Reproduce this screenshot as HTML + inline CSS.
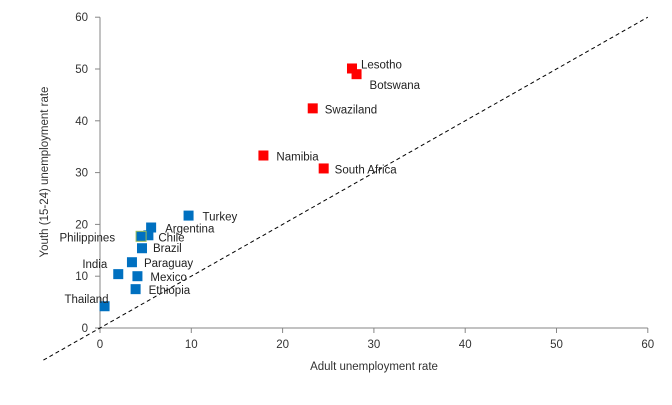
<!DOCTYPE html>
<html><head><meta charset="utf-8"><style>
body{margin:0;background:#fff}
svg{display:block;font-family:"Liberation Sans",sans-serif}
</style></head><body>
<svg id="chart" width="672" height="405" viewBox="0 0 672 405"></svg>
<script>
const names=["Lesotho","Botswana","Swaziland","Namibia","South Africa","Turkey","Argentina","Chile","Philippines","Brazil","Paraguay","India","Mexico","Ethiopia","Thailand"];
const adultRate=[27.6,28.1,23.3,17.9,24.5,9.7,5.6,5.3,4.5,4.6,3.5,2.0,4.1,3.9,0.5];
const youthRate=[50.1,49.0,42.4,33.3,30.8,21.7,19.4,17.9,17.7,15.4,12.7,10.4,10.0,7.5,4.2];
const group=["africa","africa","africa","africa","africa","other","other","other","other","other","other","other","other","other","other"];
const xTicks=[0,10,20,30,40,50,60];
const yTicks=[0,10,20,30,40,50,60];
const ns="http://www.w3.org/2000/svg";
const svg=document.getElementById("chart");
const X=v=>100+v*9.13, Y=v=>328-v*5.18;
function mk(t,a){const e=document.createElementNS(ns,t);for(const k in a)e.setAttribute(k,a[k]);svg.appendChild(e);return e;}
let e;
e=mk("line",{x1:X(0),y1:Y(0),x2:X(60),y2:Y(0),stroke:"#868686"});


e=mk("line",{x1:X(0),y1:Y(0),x2:X(0),y2:Y(60),stroke:"#868686"});


xTicks.forEach(t=>{
 mk("line",{x1:X(t),y1:Y(0),x2:X(t),y2:Y(0)+5,stroke:"#868686"});
 e=mk("text",{x:X(t),y:Y(0)+20,"text-anchor":"middle","font-size":"11.5",fill:"#333"});e.textContent=t;
 
 
});
yTicks.forEach(t=>{
 mk("line",{x1:X(0)-5,y1:Y(t),x2:X(0),y2:Y(t),stroke:"#868686"});
 e=mk("text",{x:X(0)-12,y:Y(t)+4,"text-anchor":"end","font-size":"11.5",fill:"#333"});e.textContent=t;
 
 
});
e=mk("line",{x1:X(-6.2),y1:Y(-6.2),x2:X(60),y2:Y(60),stroke:"#000","stroke-dasharray":"4,3"});


e=mk("text",{x:374,y:370,"text-anchor":"middle","font-size":"11.5",fill:"#333"});e.textContent="Adult unemployment rate";


e=mk("text",{x:0,y:0,"text-anchor":"middle","font-size":"11.5",fill:"#333",transform:"translate(48,172) rotate(-90)"});e.textContent="Youth (15-24) unemployment rate";


const off={"Botswana":[13,15,"start"],"Philippines":[-26,5,"end"],"India":[-11,-6,"end"],"Thailand":[4,-3,"end"],"Chile":[10,6,"start"],"Argentina":[14,5,"start"],"Brazil":[11,4,"start"],"Turkey":[14,5,"start"],"Mexico":[13,5,"start"],"Ethiopia":[13,5,"start"],"Paraguay":[12,5,"start"],"South Africa":[11,5,"start"],"Namibia":[13,5,"start"],"Swaziland":[12,5,"start"],"Lesotho":[9,0,"start"]};
names.forEach((n,i)=>{
 const cx=X(adultRate[i]),cy=Y(youthRate[i]);
 const r=mk("rect",{x:cx-5,y:cy-5,width:10,height:10,fill:group[i]=="africa"?"#ff0000":"#0070c0"});
 if(n=="Philippines"){r.setAttribute("stroke","#9bbb59");r.setAttribute("stroke-width","1");}
 
 
 const o=off[n];
 const t=mk("text",{x:cx+o[0],y:cy+o[1],"text-anchor":o[2],"font-size":"11.5",fill:"#222"});t.textContent=n;
 
 
});
</script>
</body></html>
